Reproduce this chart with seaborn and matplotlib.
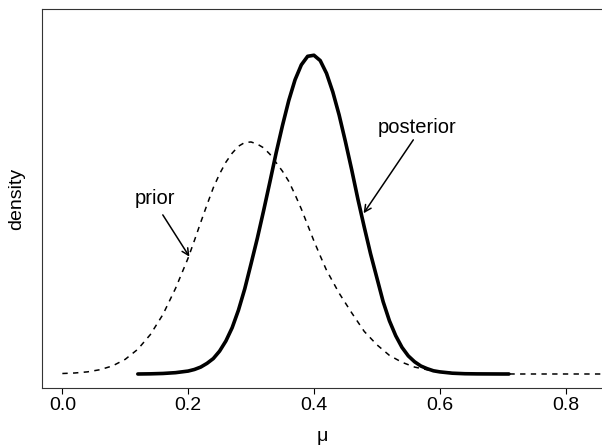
import numpy as np
import pandas as pd
import matplotlib
matplotlib.use("Agg")
import matplotlib.pyplot as plt
import seaborn as sns

# 사전분포(prior) / 사후분포(posterior) 밀도 - 그림에서 읽은 값
prior_x = [0.00, 0.02, 0.04, 0.06, 0.08, 0.10, 0.12, 0.14, 0.16, 0.18,
           0.20, 0.21, 0.22, 0.23, 0.24, 0.25, 0.26, 0.27, 0.28, 0.29,
           0.30, 0.31, 0.32, 0.33, 0.34, 0.35, 0.36, 0.37, 0.38, 0.39,
           0.40, 0.41, 0.42, 0.44, 0.46, 0.48, 0.50, 0.52, 0.54, 0.56,
           0.58, 0.60, 0.62, 0.64, 0.66, 0.68, 0.70, 0.72, 0.74, 0.76,
           0.78, 0.80, 0.82, 0.84, 0.86]
prior_y = [0.009, 0.019, 0.04, 0.081, 0.153, 0.276, 0.465, 0.742, 1.12, 1.61,
           2.18, 2.51, 2.85, 3.18, 3.50, 3.76, 3.98, 4.15, 4.28, 4.35,
           4.36, 4.32, 4.25, 4.13, 3.97, 3.81, 3.62, 3.37, 3.10, 2.80,
           2.50, 2.22, 1.95, 1.52, 1.15, 0.80, 0.55, 0.35, 0.22, 0.13,
           0.08, 0.045, 0.025, 0.012, 0.006, 0.003, 0.001, 0.0, 0.0, 0.0,
           0.0, 0.0, 0.0, 0.0, 0.0]

post_x = [0.12, 0.14, 0.16, 0.18, 0.20, 0.21, 0.22, 0.23, 0.24, 0.25,
          0.26, 0.27, 0.28, 0.29, 0.30, 0.31, 0.32, 0.33, 0.34, 0.35,
          0.36, 0.37, 0.38, 0.39, 0.40, 0.41, 0.42, 0.43, 0.44, 0.45,
          0.46, 0.47, 0.48, 0.49, 0.50, 0.51, 0.52, 0.53, 0.54, 0.55,
          0.56, 0.57, 0.58, 0.59, 0.60, 0.62, 0.64, 0.66, 0.68, 0.70, 0.71]
post_y = [0.0, 0.003, 0.01, 0.025, 0.055, 0.085, 0.13, 0.20, 0.29, 0.43,
          0.62, 0.87, 1.20, 1.60, 2.07, 2.55, 3.07, 3.61, 4.16, 4.67,
          5.14, 5.53, 5.81, 5.97, 5.99, 5.89, 5.65, 5.30, 4.87, 4.37,
          3.84, 3.28, 2.76, 2.26, 1.81, 1.36, 1.00, 0.72, 0.50, 0.34,
          0.23, 0.15, 0.10, 0.06, 0.04, 0.015, 0.005, 0.002, 0.001, 0.0, 0.0]

xticks = [0.0, 0.2, 0.4, 0.6, 0.8]
xtick_labels = ["0.0", "0.2", "0.4", "0.6", "0.8"]

sns.set_style("white")
plt.rcParams['font.family'] = ['Liberation Sans', 'DejaVu Sans']
plt.rcParams['text.color'] = 'black'
plt.rcParams['axes.labelcolor'] = 'black'

fig = plt.figure(figsize=(6.02, 4.45), dpi=100)
ax = fig.add_axes([0.0693, 0.1274, 0.9307, 0.8513])

sns.lineplot(x=prior_x, y=prior_y, ax=ax, color='black', linewidth=1.1,
             linestyle=(0, (3.5, 3.5)))
sns.lineplot(x=post_x, y=post_y, ax=ax, color='black', linewidth=2.6)

ax.set_xlim(-0.0328, 0.858)
ax.set_ylim(-0.269, 6.85)

# 라벨 + 화살표
ax.text(0.1474, 3.29, "prior", ha='center', va='center', fontsize=14.5)
ax.text(0.564, 4.64, "posterior", ha='center', va='center', fontsize=14.5)
arrow = dict(arrowstyle='->', color='black', lw=1.1, shrinkA=0, shrinkB=0,
             mutation_scale=12)
ax.annotate("", xy=(0.202, 2.205), xytext=(0.1597, 2.99), arrowprops=arrow)
ax.annotate("", xy=(0.479, 3.02), xytext=(0.558, 4.40), arrowprops=arrow)

ax.set_xticks(xticks)
ax.set_xticklabels(xtick_labels)
ax.set_yticks([])
ax.tick_params(axis='x', direction='out', length=4, width=0.8, colors='black',
               labelsize=14, pad=2, bottom=True)
ax.set_xlabel("μ", fontsize=14, labelpad=10)
ax.set_ylabel("density", fontsize=14, labelpad=12)

for side in ['left', 'bottom', 'top']:
    ax.spines[side].set_color('#333333')
    ax.spines[side].set_linewidth(0.8)
ax.spines['right'].set_visible(False)

fig.savefig("out.png", dpi=100)
